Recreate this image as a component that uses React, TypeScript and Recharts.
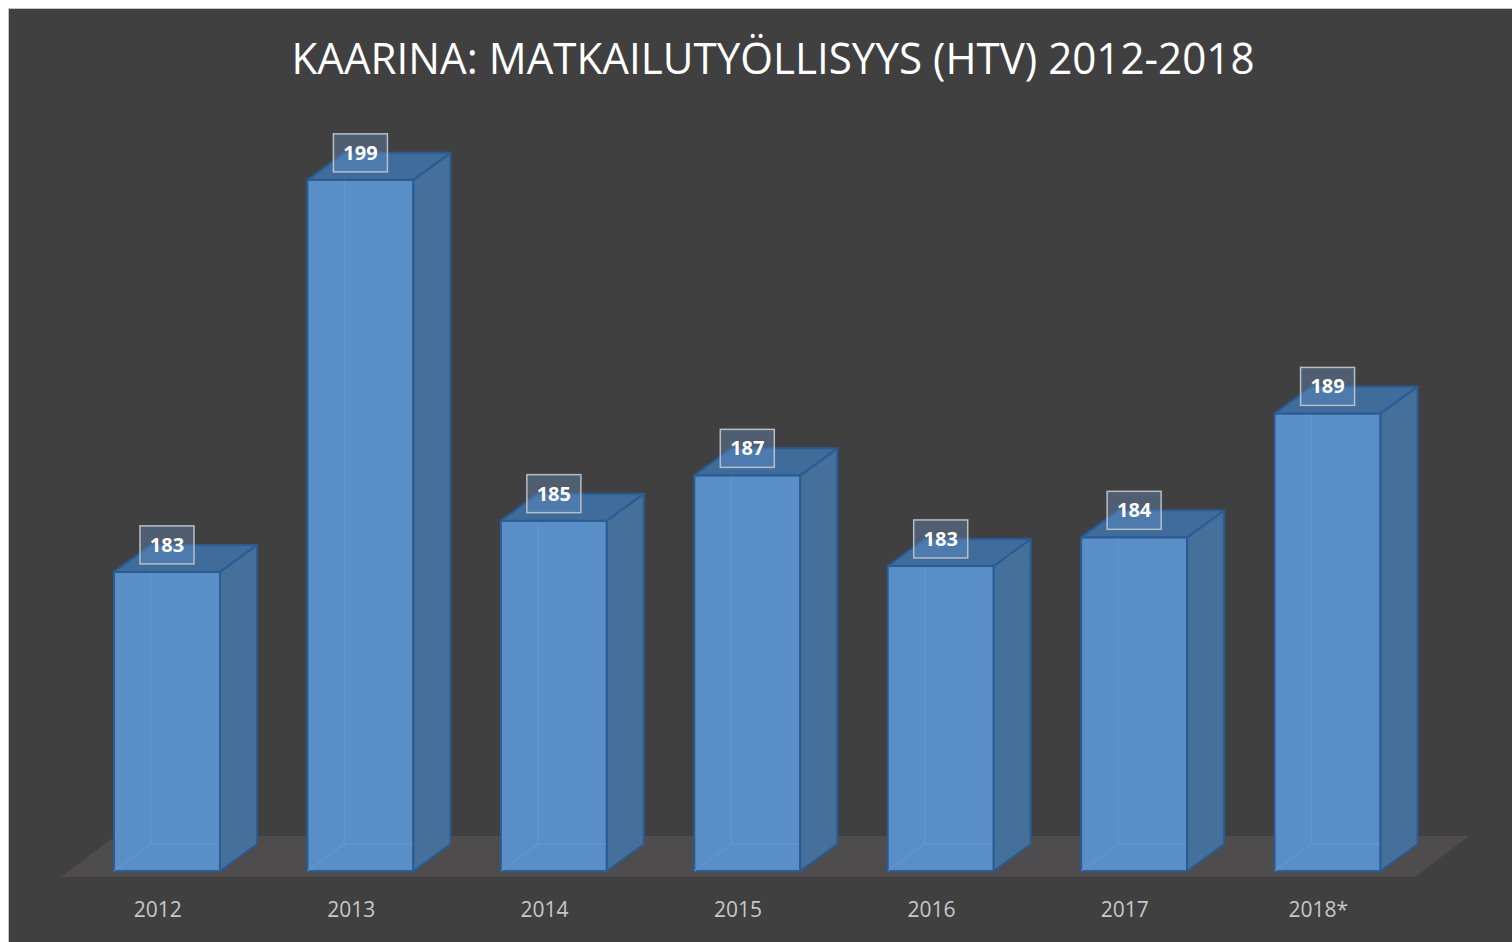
import React from 'react';
import { BarChart, Bar, XAxis, YAxis, LabelList, ReferenceArea } from 'recharts';

const years = ['2012', '2013', '2014', '2015', '2016', '2017', '2018*'];
const htv = [182.55, 199, 184.7, 186.6, 182.8, 184.0, 189.2];

const data = years.map((year, i) => ({ year, htv: htv[i] }));

const DX = 37;
const DY = 27;
const SHIFT = 9;

const Bar3D = (props: any) => {
    const { x, y, width, height } = props;
    const fl = x + SHIFT;
    const fr = x + width + SHIFT;
    const top = y;
    const bottom = y + height;
    return (
        <g>
            <rect x={fl} y={top} width={fr - fl} height={height} fill="#5a8ec6" stroke="#2a5b93" strokeWidth={2} />
            {/* faint back edges seen through the front face */}
            <path
                d={`M${fl},${bottom} L${fl + DX},${bottom - DY} L${fr},${bottom - DY} M${fl + DX},${bottom - DY} L${fl + DX},${top}`}
                stroke="#6a9dd6"
                strokeWidth={1.5}
                fill="none"
                opacity={0.55}
            />
            <polygon
                points={`${fr},${top} ${fr + DX},${top - DY} ${fr + DX},${bottom - DY} ${fr},${bottom}`}
                fill="#45709b"
                stroke="#2a5b93"
                strokeWidth={2}
                strokeLinejoin="round"
            />
            <polygon
                points={`${fl},${top} ${fl + DX},${top - DY} ${fr + DX},${top - DY} ${fr},${top}`}
                fill="#3f6c9b"
                stroke="#2a5b93"
                strokeWidth={2}
                strokeLinejoin="round"
            />
        </g>
    );
};

const ValueBox = (props: any) => {
    const { x, y, width, value } = props;
    const cx = x + width / 2 + SHIFT;
    const bw = 54;
    const bh = 38;
    const by = y - 8 - bh;
    return (
        <g>
            <rect x={cx - bw / 2} y={by} width={bw} height={bh} fill="rgba(110,155,210,0.33)" stroke="#b8bec6" strokeWidth={1.5} />
            <text
                x={cx}
                y={by + bh / 2 + 7}
                textAnchor="middle"
                fill="#ffffff"
                fontFamily="'Open Sans', sans-serif"
                fontWeight="bold"
                fontSize={20}
            >
                {Math.round(value)}
            </text>
        </g>
    );
};

const Floor = (props: any) => {
    const { x, y, width, height } = props;
    const b = y + height;
    return (
        <polygon
            points={`${x},${b + 6} ${x + width},${b + 6} ${x + width + 54},${b - 35} ${x + 54},${b - 35}`}
            fill="#4e4c4c"
        />
    );
};

const YearTick = (props: any) => {
    const { x, y, payload } = props;
    return (
        <text x={x} y={y + 38} textAnchor="middle" fill="#c8c8c8" fontFamily="'Open Sans', sans-serif" fontSize={21}>
            {payload.value}
        </text>
    );
};

export default function App() {
    return (
        <div
            style={{
                position: 'fixed',
                left: 8,
                top: 8,
                width: 1504,
                height: 934,
                background: '#404040',
                boxShadow: 'inset 1px 1px 0 #c4c4c4',
                overflow: 'hidden',
            }}
        >
            <svg width={1504} height={100} style={{ position: 'absolute', left: 0, top: 0 }}>
                <text
                    x={765}
                    y={66}
                    textAnchor="middle"
                    fill="#ffffff"
                    fontFamily="'Open Sans', sans-serif"
                    fontSize={43}
                    textLength={963}
                    lengthAdjust="spacingAndGlyphs"
                >
                    KAARINA: MATKAILUTYÖLLISYYS (HTV) 2012-2018
                </text>
            </svg>
            <div style={{ position: 'absolute', left: 0, top: 0 }}>
                <BarChart width={1504} height={934} data={data} margin={{ top: 148, right: 97, left: 53, bottom: 31 }}>
                    <XAxis dataKey="year" axisLine={false} tickLine={false} height={40} interval={0} tick={<YearTick />} />
                    <YAxis hide domain={[170, 200]} />
                    <ReferenceArea y1={170} y2={170.2} shape={<Floor />} ifOverflow="visible" />
                    <Bar dataKey="htv" barSize={106} shape={<Bar3D />} isAnimationActive={false}>
                        <LabelList dataKey="htv" content={<ValueBox />} />
                    </Bar>
                </BarChart>
            </div>
        </div>
    );
}
